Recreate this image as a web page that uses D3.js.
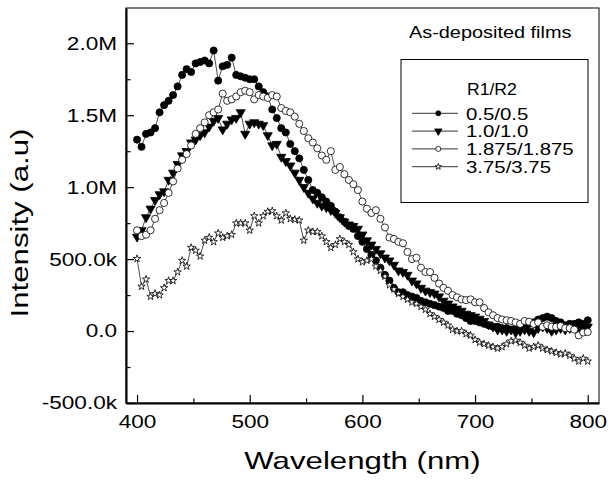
<!DOCTYPE html>
<html>
<head>
<meta charset="utf-8">
<script src="https://cdn.jsdelivr.net/npm/d3@7"></script>
<style>
  html, body { margin: 0; padding: 0; background: #fff; }
  svg { display: block; font-family: "Liberation Sans", Arial, sans-serif; }
</style>
</head>
<body>
<svg id="chart" width="608" height="481"></svg>
<script>
// ---------- DATA ----------
const wavelength = [400,404,408,412,416,420,424,428,432,436,440,444,448,452,456,460,464,468,472,476,
  480,484,488,492,496,500,504,508,512,516,520,524,528,532,536,540,544,548,552,556,
  560,564,568,572,576,580,584,588,592,596,600,604,608,612,616,620,624,628,632,636,
  640,644,648,652,656,660,664,668,672,676,680,684,688,692,696,700,704,708,712,716,
  720,724,728,732,736,740,744,748,752,756,760,764,768,772,776,780,784,788,792,796,800];

// intensities in millions (a.u.)
const r05 = [1.33,1.28,1.37,1.38,1.41,1.52,1.57,1.60,1.64,1.70,1.78,1.82,1.80,1.86,1.87,1.88,1.86,1.95,1.74,1.84,
  1.85,1.90,1.78,1.77,1.76,1.75,1.75,1.70,1.66,1.63,1.54,1.48,1.41,1.38,1.30,1.25,1.20,1.12,1.05,0.98,
  0.96,0.93,0.90,0.87,0.83,0.79,0.76,0.73,0.71,0.66,0.62,0.57,0.53,0.49,0.44,0.39,0.35,0.30,0.27,0.27,
  0.25,0.24,0.23,0.21,0.20,0.19,0.18,0.17,0.16,0.14,0.14,0.12,0.11,0.09,0.07,0.07,0.06,0.05,0.04,0.03,
  0.03,0.02,0.02,0.01,0.02,0.03,0.03,0.05,0.06,0.08,0.09,0.10,0.09,0.07,0.06,0.04,0.05,0.05,0.06,0.05,0.075];

const r10 = [0.655,0.70,0.79,0.85,0.91,0.95,0.97,1.05,1.10,1.16,1.22,1.25,1.31,1.33,1.36,1.38,1.42,1.46,1.48,1.40,
  1.44,1.47,1.48,1.52,1.37,1.44,1.45,1.44,1.43,1.36,1.29,1.30,1.21,1.18,1.15,1.10,1.05,1.00,0.96,0.92,
  0.89,0.87,0.86,0.84,0.82,0.79,0.76,0.74,0.73,0.71,0.67,0.63,0.60,0.57,0.54,0.51,0.49,0.46,0.42,0.41,
  0.39,0.35,0.33,0.30,0.28,0.27,0.26,0.24,0.21,0.19,0.17,0.155,0.14,0.12,0.11,0.10,0.085,0.07,0.045,0.03,
  0.01,0.01,0.00,0.01,-0.01,0.00,0.01,0.00,-0.01,0.02,0.03,0.02,0.00,0.01,0.02,0.01,0.02,0.03,0.02,0.03,0.03];

const r1875 = [0.70,0.66,0.67,0.70,0.78,0.84,0.89,0.96,1.04,1.13,1.19,1.23,1.29,1.37,1.41,1.45,1.50,1.52,1.54,1.65,
  1.60,1.61,1.63,1.66,1.67,1.66,1.61,1.64,1.63,1.62,1.64,1.63,1.55,1.53,1.52,1.49,1.44,1.39,1.34,1.31,
  1.27,1.22,1.19,1.25,1.12,1.14,1.09,1.05,1.02,0.98,0.90,0.85,0.82,0.84,0.78,0.72,0.65,0.64,0.62,0.61,
  0.55,0.50,0.51,0.44,0.41,0.41,0.37,0.33,0.30,0.28,0.25,0.235,0.22,0.215,0.22,0.20,0.20,0.16,0.13,0.11,
  0.09,0.08,0.075,0.07,0.06,0.05,0.07,0.065,0.05,0.06,0.03,0.04,0.03,0.03,0.035,0.02,0.02,0.01,-0.03,-0.01,-0.007];

const r375 = [0.503,0.31,0.36,0.24,0.26,0.25,0.30,0.35,0.35,0.41,0.49,0.45,0.58,0.56,0.52,0.63,0.65,0.62,0.68,0.65,
  0.66,0.67,0.75,0.75,0.75,0.70,0.80,0.75,0.80,0.83,0.835,0.80,0.77,0.82,0.78,0.775,0.77,0.63,0.70,0.69,
  0.69,0.66,0.62,0.58,0.60,0.64,0.62,0.60,0.55,0.50,0.48,0.49,0.50,0.45,0.42,0.38,0.32,0.29,0.26,0.24,
  0.22,0.20,0.19,0.17,0.15,0.12,0.10,0.08,0.06,0.04,0.01,0.00,0.00,-0.02,-0.03,-0.06,-0.08,-0.09,-0.10,-0.11,
  -0.12,-0.11,-0.09,-0.07,-0.065,-0.08,-0.10,-0.12,-0.11,-0.10,-0.12,-0.13,-0.14,-0.15,-0.16,-0.155,-0.17,-0.19,-0.21,-0.19,-0.21];

const seriesNames = ["0.5/0.5", "1.0/1.0", "1.875/1.875", "3.75/3.75"];
const seriesValues = [r05, r10, r1875, r375];

const xTicks = [400, 500, 600, 700, 800];
const xMinorTicks = [450, 550, 650, 750];
const yTicks = [-0.5, 0, 0.5, 1.0, 1.5, 2.0];
const yTickLabels = ["-500.0k", "0.0", "500.0k", "1.0M", "1.5M", "2.0M"];
const yMinorTicks = [-0.25, 0.25, 0.75, 1.25, 1.75];

const xTitle = "Wavelength (nm)";
const yTitle = "Intensity (a.u)";
const noteText = "As-deposited films";
const legendTitle = "R1/R2";

// ---------- LAYOUT ----------
const L = 126, T = 8, R = 599, B = 403;
const svg = d3.select("#chart");

const x = d3.scaleLinear().domain([390.2, 810]).range([L, R]);
const y = d3.scaleLinear().domain([-0.5, 2.245]).range([B, T]);

// frame
svg.append("rect").attr("x", L).attr("y", T).attr("width", R - L).attr("height", B - T)
  .attr("fill", "none").attr("stroke", "#000").attr("stroke-width", 1);

function stretch(sel, sx) {
  sel.each(function () {
    const t = d3.select(this);
    const tx = +t.attr("x") || 0;
    const ty = +t.attr("y") || 0;
    t.attr("x", 0).attr("y", 0).attr("transform", `translate(${tx},${ty}) scale(${sx},1)`);
  });
}

// x axis
const gx = svg.append("g").attr("transform", `translate(0,${B})`)
  .call(d3.axisBottom(x).tickValues(xTicks).tickSizeInner(-8).tickSizeOuter(0).tickPadding(12).tickFormat(d3.format("d")));
gx.select(".domain").attr("stroke-width", 2);
gx.selectAll(".tick line").attr("stroke-width", 1.2);
gx.selectAll(".tick text").attr("font-size", 18.5).attr("fill", "#000")
  .attr("font-family", "Liberation Sans, Arial, sans-serif").call(stretch, 1.22);
svg.append("g").attr("transform", `translate(0,${B})`)
  .call(d3.axisBottom(x).tickValues(xMinorTicks).tickSizeInner(-4.5).tickSizeOuter(0).tickFormat(""))
  .call(g => g.select(".domain").remove())
  .selectAll(".tick line").attr("stroke-width", 1.2);

// y axis
const gy = svg.append("g").attr("transform", `translate(${L},0)`)
  .call(d3.axisLeft(y).tickValues(yTicks).tickSizeInner(-8).tickSizeOuter(0).tickPadding(9)
    .tickFormat((d, i) => yTickLabels[i]));
gy.select(".domain").attr("stroke-width", 2);
gy.selectAll(".tick line").attr("stroke-width", 1.2);
gy.selectAll(".tick text").attr("font-size", 18.5).attr("fill", "#000")
  .attr("font-family", "Liberation Sans, Arial, sans-serif").call(stretch, 1.22);
svg.append("g").attr("transform", `translate(${L},0)`)
  .call(d3.axisLeft(y).tickValues(yMinorTicks).tickSizeInner(-4.5).tickSizeOuter(0).tickFormat(""))
  .call(g => g.select(".domain").remove())
  .selectAll(".tick line").attr("stroke-width", 1.2);

// titles
svg.append("text").attr("transform", `translate(${(L + R) / 2},469) scale(1.3,1)`)
  .attr("text-anchor", "middle").attr("font-size", 24).text(xTitle);
svg.append("text").attr("transform", `translate(28,223) rotate(-90) scale(1.3,1)`)
  .attr("text-anchor", "middle").attr("font-size", 24).text(yTitle);

// ---------- SERIES ----------
const markers = [
  { type: d3.symbolCircle, size: 40, fill: "#000", rot: 0 },
  { type: d3.symbolTriangle, size: 36, fill: "#000", rot: 180 },
  { type: d3.symbolCircle, size: 40, fill: "#fff", rot: 0 },
  { type: d3.symbolStar, size: 17, fill: "#fff", rot: 0 }
];
const line = d3.line().x(d => x(d[0])).y(d => y(d[1]));

const plot = svg.append("g");
seriesValues.forEach((vals, si) => {
  const pts = wavelength.map((w, i) => [w, vals[i]]);
  const g = plot.append("g");
  g.append("path").datum(pts).attr("d", line).attr("fill", "none")
    .attr("stroke", "#000").attr("stroke-width", 0.7);
  const m = markers[si];
  g.selectAll("path.m").data(pts).join("path").attr("class", "m")
    .attr("d", d3.symbol().type(m.type).size(m.size))
    .attr("transform", d => `translate(${x(d[0])},${y(d[1])}) rotate(${m.rot})`)
    .attr("fill", m.fill).attr("stroke", "#000").attr("stroke-width", 0.8);
});

// ---------- ANNOTATION & LEGEND ----------
svg.append("text").attr("transform", "translate(409,38) scale(1.22,1)")
  .attr("font-size", 16.3).text(noteText);

svg.append("rect").attr("x", 401).attr("y", 59.5).attr("width", 187).attr("height", 143)
  .attr("fill", "#fff").attr("stroke", "#000").attr("stroke-width", 1);

svg.append("text").attr("transform", "translate(467,95) scale(1.1,1)")
  .attr("font-size", 16).text(legendTitle);

const legendMarkers = [
  { type: d3.symbolCircle, size: 20, fill: "#000", rot: 0 },
  { type: d3.symbolTriangle, size: 24, fill: "#000", rot: 180 },
  { type: d3.symbolCircle, size: 20, fill: "#fff", rot: 0 },
  { type: d3.symbolStar, size: 12, fill: "#fff", rot: 0 }
];
seriesNames.forEach((name, i) => {
  const cy = 113.3 + i * 17.8;
  svg.append("line").attr("x1", 412).attr("x2", 458).attr("y1", cy).attr("y2", cy)
    .attr("stroke", "#333").attr("stroke-width", 1);
  const m = legendMarkers[i];
  svg.append("path").attr("d", d3.symbol().type(m.type).size(m.size))
    .attr("transform", `translate(438.3,${cy}) rotate(${m.rot})`)
    .attr("fill", m.fill).attr("stroke", "#000").attr("stroke-width", 0.8);
  svg.append("text").attr("transform", `translate(466,${cy + 6.2}) scale(1.2,1)`)
    .attr("font-size", 17).text(name);
});
</script>
</body>
</html>
